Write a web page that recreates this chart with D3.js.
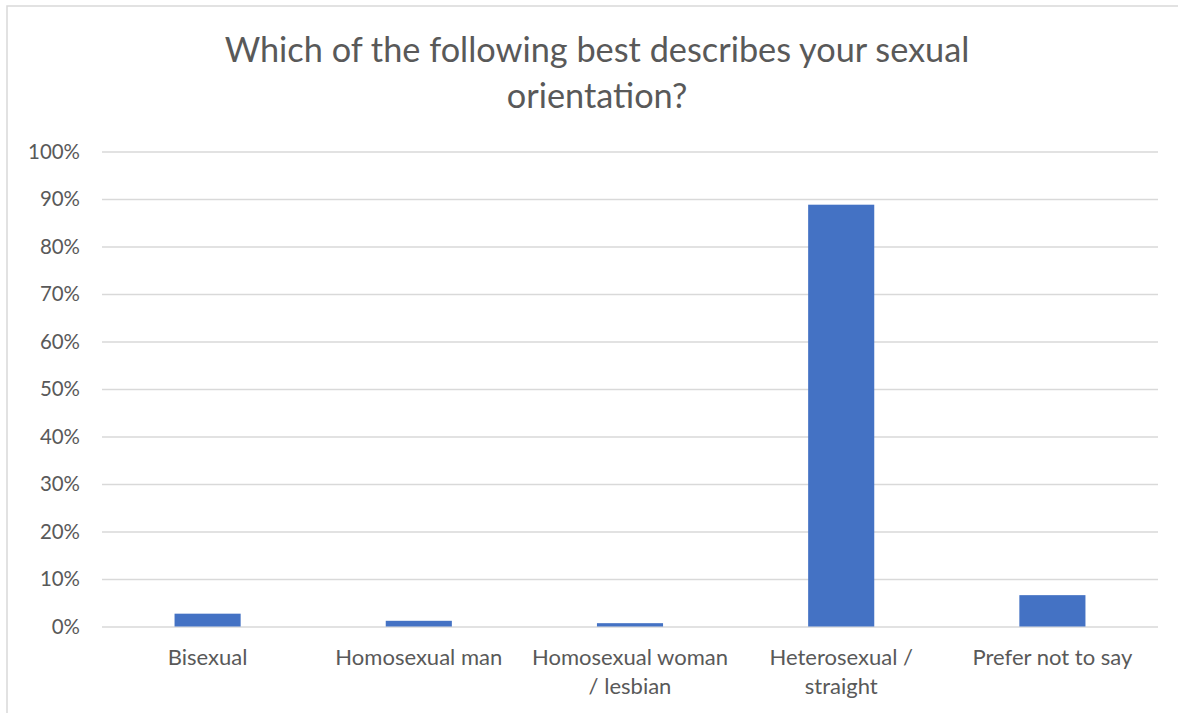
<!DOCTYPE html>
<html>
<head>
<meta charset="utf-8">
<script src="https://cdn.jsdelivr.net/npm/d3@7"></script>
<style>
  html, body { margin: 0; padding: 0; background: #fff; }
  svg { display: block; }
  text { font-family: Lato, "Open Sans", sans-serif; fill: #595959; }
</style>
</head>
<body>
<script>
// chart data
const categories = ["Bisexual", "Homosexual man", "Homosexual woman / lesbian", "Heterosexual / straight", "Prefer not to say"];
const labelLines = [["Bisexual"], ["Homosexual man"], ["Homosexual woman", "/ lesbian"], ["Heterosexual /", "straight"], ["Prefer not to say"]];
const values = [0.027, 0.012, 0.007, 0.888, 0.066];
const yTicks = [0, 0.1, 0.2, 0.3, 0.4, 0.5, 0.6, 0.7, 0.8, 0.9, 1.0];
const titleLines = ["Which of the following best describes your sexual", "orientation?"];

const W = 1178, H = 713;
const plot = {left: 102, right: 1158, top: 151.5, bottom: 626.5};

const svg = d3.select("body").append("svg")
    .attr("width", W)
    .attr("height", H);

// chart area border (clipped on the right and bottom in the reference)
svg.append("path")
    .attr("d", `M7,${H} V6 H${W}`)
    .attr("fill", "none")
    .attr("stroke", "#d9d9d9")
    .attr("stroke-width", 1.5);

// fit a font size so that a string has the given width
function fitSize(str, target, base) {
  let t = svg.append("text").attr("font-size", base).text(str);
  let w = t.node().getComputedTextLength();
  t.remove();
  return base * target / w;
}

const titleSize = fitSize(titleLines[0], 745, 30);
const labelSize = fitSize("Homosexual man", 167, 20);
const tickSize = fitSize("100%", 52, 20);

let title = svg.append("g").attr("class", "title");
titleLines.forEach((line, i) => {
  title.append("text")
    .attr("x", 597)
    .attr("y", 62 + i * 46)
    .attr("text-anchor", "middle")
    .attr("font-size", titleSize)
    .text(line);
});

const x = d3.scaleBand()
    .domain(categories)
    .range([plot.left, plot.right])
    .paddingInner(0.687)
    .paddingOuter(0.3435);

const y = d3.scaleLinear()
    .domain([0, 1])
    .range([plot.bottom, plot.top]);

// gridlines
let grid = svg.append("g")
    .attr("class", "grid")
    .attr("transform", `translate(${plot.left},0)`)
    .call(d3.axisLeft(y).tickValues(yTicks).tickSize(-(plot.right - plot.left)).tickFormat(""));
grid.select(".domain").remove();
grid.selectAll("line")
    .attr("stroke", "#d9d9d9")
    .attr("stroke-width", 1.3);

// y axis labels
let yAxis = svg.append("g")
    .attr("class", "y-axis")
    .attr("transform", `translate(${plot.left},0)`)
    .call(d3.axisLeft(y).tickValues(yTicks).tickSize(0).tickPadding(22).tickFormat(d3.format(".0%")));
yAxis.select(".domain").remove();
yAxis.selectAll("text")
    .attr("font-size", tickSize)
    .attr("font-family", null)
    .attr("fill", "#595959");

// bars
svg.append("g")
    .attr("class", "bars")
    .selectAll("rect")
    .data(values)
    .join("rect")
    .attr("x", (d, i) => x(categories[i]))
    .attr("y", d => y(d))
    .attr("width", x.bandwidth())
    .attr("height", d => y(0) - y(d))
    .attr("fill", "#4472c4");

// x axis labels
let xAxis = svg.append("g")
    .attr("class", "x-axis")
    .attr("transform", `translate(0,${plot.bottom})`)
    .call(d3.axisBottom(x).tickSize(0).tickFormat(""));
xAxis.select(".domain").remove();
xAxis.selectAll(".tick").each(function(d, i) {
  let t = d3.select(this).append("text")
      .attr("text-anchor", "middle")
      .attr("font-size", labelSize)
      .attr("fill", "#595959");
  labelLines[i].forEach((line, j) => {
    t.append("tspan")
      .attr("x", 0)
      .attr("y", 38.5 + j * 28.5)
      .text(line);
  });
});
</script>
</body>
</html>
